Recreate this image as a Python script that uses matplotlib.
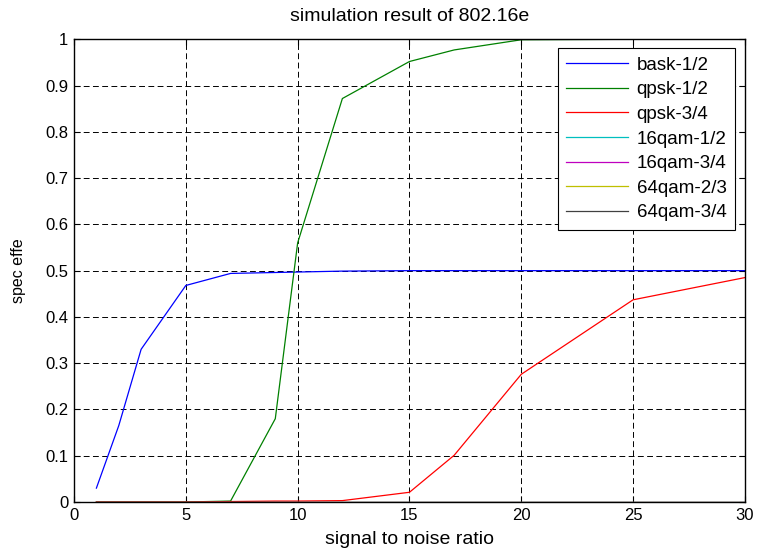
import matplotlib
matplotlib.use("Agg")
import matplotlib.pyplot as plt
import numpy as np

plt.rcParams['font.family'] = ['Liberation Sans', 'DejaVu Sans']
plt.rcParams['font.size'] = 12

# signal to noise ratio points
snr = [1, 2, 3, 5, 7, 9, 10, 12, 15, 17, 20, 25, 30]

bask_12 = [0.030, 0.165, 0.330, 0.468, 0.494, 0.496, 0.497, 0.499, 0.500, 0.500, 0.500, 0.500, 0.500]
qpsk_12 = [0.0, 0.0, 0.0, 0.0, 0.002, 0.180, 0.560, 0.872, 0.952, 0.977, 0.999, 1.000, 1.000]
qpsk_34 = [0.0, 0.0, 0.0, 0.0, 0.001, 0.002, 0.002, 0.003, 0.021, 0.101, 0.276, 0.437, 0.485]
qam16_12 = [0.0] * 13
qam16_34 = [0.0] * 13
qam64_23 = [0.0] * 13
qam64_34 = [0.0] * 13

labels = ['bask-1/2', 'qpsk-1/2', 'qpsk-3/4', '16qam-1/2', '16qam-3/4', '64qam-2/3', '64qam-3/4']
colors = ['#0000ff', '#008000', '#ff0000', '#00bfbf', '#bf00bf', '#bfbf00', '#404040']
series = [bask_12, qpsk_12, qpsk_34, qam16_12, qam16_34, qam64_23, qam64_34]

fig = plt.figure(figsize=(7.57, 5.55), dpi=100)
ax = fig.add_axes([0.0978, 0.0955, 0.8862, 0.8337])

for y, lab, c in zip(series, labels, colors):
    ax.plot(snr, y, color=c, lw=0.9, label=lab)

ax.set_xlim(0, 30)
ax.set_ylim(0, 1)
ax.set_xticks(np.arange(0, 31, 5))
ax.set_yticks(np.arange(0, 1.01, 0.1))
ax.set_yticklabels(['0', '0.1', '0.2', '0.3', '0.4', '0.5', '0.6', '0.7', '0.8', '0.9', '1'])
ax.grid(True, color='black', lw=0.7, linestyle=(0, (6, 3.5)))
ax.tick_params(direction='in', top=True, right=True, length=4, width=0.8, pad=4)
for s in ax.spines.values():
    s.set_linewidth(1.0)

ax.set_title('simulation result of 802.16e', fontsize=14, pad=13)
ax.set_xlabel('signal to noise ratio', fontsize=14, labelpad=6)
ax.set_ylabel('spec effe', fontsize=11.5)
ax.yaxis.set_label_coords(-0.072, 0.5)

leg = ax.legend(loc='upper right', bbox_to_anchor=(0.985, 0.981), fancybox=False,
                edgecolor='black', framealpha=1, borderpad=0.45, labelspacing=0.4,
                handlelength=3.3, handletextpad=0.45, borderaxespad=0, fontsize=13.5)
leg.get_frame().set_linewidth(0.8)

fig.savefig('out.png', dpi=100)
